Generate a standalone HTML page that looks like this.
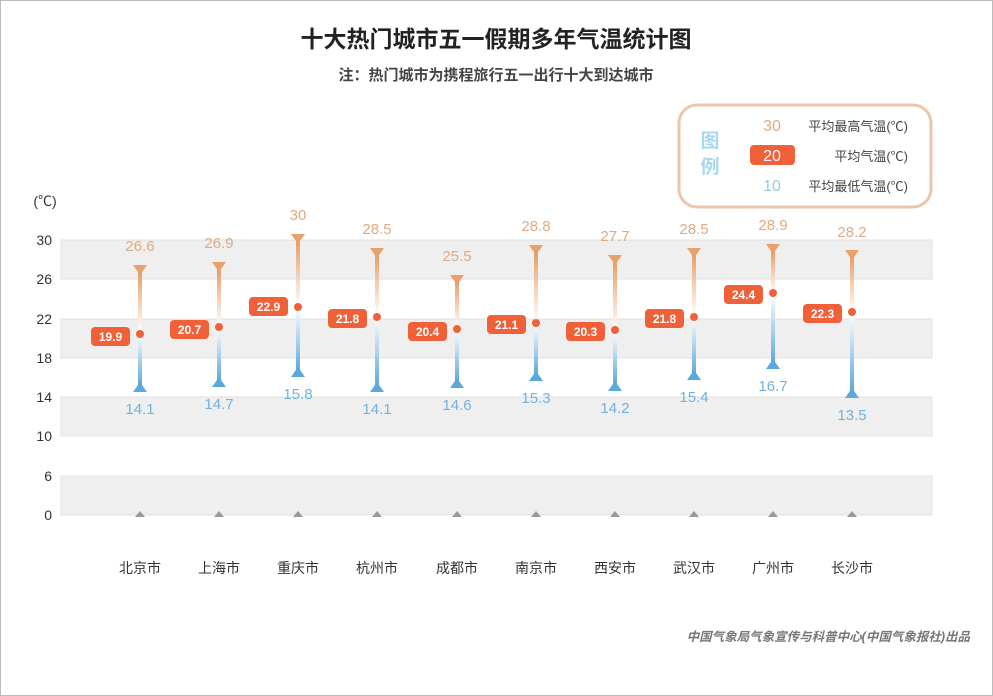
<!DOCTYPE html>
<html><head><meta charset="utf-8"><style>
html,body{margin:0;padding:0;background:#fff}
svg{display:block;font-family:"Liberation Sans","Noto Sans CJK SC",sans-serif}
</style></head><body>
<svg width="993" height="696" viewBox="0 0 993 696" xmlns="http://www.w3.org/2000/svg">
<defs>
<linearGradient id="gB" gradientUnits="userSpaceOnUse" x1="0" y1="273" x2="0" y2="386"><stop offset="0" stop-color="#e9a06a"/><stop offset="0.53" stop-color="#fff"/><stop offset="1" stop-color="#5aa8dc"/></linearGradient>
<linearGradient id="gS" gradientUnits="userSpaceOnUse" x1="0" y1="271" x2="0" y2="381"><stop offset="0" stop-color="#e9a06a"/><stop offset="0.5" stop-color="#fff"/><stop offset="1" stop-color="#5aa8dc"/></linearGradient>
<linearGradient id="gC" gradientUnits="userSpaceOnUse" x1="0" y1="243" x2="0" y2="371"><stop offset="0" stop-color="#e9a06a"/><stop offset="0.5" stop-color="#fff"/><stop offset="1" stop-color="#5aa8dc"/></linearGradient>
<linearGradient id="gH" gradientUnits="userSpaceOnUse" x1="0" y1="256" x2="0" y2="386"><stop offset="0" stop-color="#e9a06a"/><stop offset="0.46" stop-color="#fff"/><stop offset="1" stop-color="#5aa8dc"/></linearGradient>
<linearGradient id="gD" gradientUnits="userSpaceOnUse" x1="0" y1="283" x2="0" y2="382"><stop offset="0" stop-color="#e9a06a"/><stop offset="0.46" stop-color="#fff"/><stop offset="1" stop-color="#5aa8dc"/></linearGradient>
<linearGradient id="gN" gradientUnits="userSpaceOnUse" x1="0" y1="254" x2="0" y2="375"><stop offset="0" stop-color="#e9a06a"/><stop offset="0.57" stop-color="#fff"/><stop offset="1" stop-color="#5aa8dc"/></linearGradient>
<linearGradient id="gX" gradientUnits="userSpaceOnUse" x1="0" y1="264" x2="0" y2="385"><stop offset="0" stop-color="#e9a06a"/><stop offset="0.55" stop-color="#fff"/><stop offset="1" stop-color="#5aa8dc"/></linearGradient>
<linearGradient id="gW" gradientUnits="userSpaceOnUse" x1="0" y1="256" x2="0" y2="374"><stop offset="0" stop-color="#e9a06a"/><stop offset="0.51" stop-color="#fff"/><stop offset="1" stop-color="#5aa8dc"/></linearGradient>
<linearGradient id="gG" gradientUnits="userSpaceOnUse" x1="0" y1="253" x2="0" y2="363"><stop offset="0" stop-color="#e9a06a"/><stop offset="0.37" stop-color="#fff"/><stop offset="1" stop-color="#5aa8dc"/></linearGradient>
<linearGradient id="gZ" gradientUnits="userSpaceOnUse" x1="0" y1="259" x2="0" y2="392"><stop offset="0" stop-color="#e9a06a"/><stop offset="0.4" stop-color="#fff"/><stop offset="1" stop-color="#5aa8dc"/></linearGradient>
</defs>
<rect x="0.5" y="0.5" width="992" height="695" fill="#fff" stroke="#bbb"/>
<text x="496" y="47" text-anchor="middle" font-size="23" font-weight="bold" fill="#222">十大热门城市五一假期多年气温统计图</text>
<text x="496" y="80" text-anchor="middle" font-size="15" font-weight="bold" fill="#444">注：热门城市为携程旅行五一出行十大到达城市</text>
<rect x="679" y="105" width="252" height="102" rx="18" fill="#fff" stroke="#ecc6a8" stroke-width="3"/>
<text x="710" y="147" text-anchor="middle" font-size="19" font-weight="bold" fill="#a8d8ee">图</text>
<text x="710" y="173" text-anchor="middle" font-size="19" font-weight="bold" fill="#a8d8ee">例</text>
<text x="772" y="131" text-anchor="middle" font-size="16" fill="#e0aa84">30</text>
<rect x="750" y="145" width="45" height="20" rx="4" fill="#f0613a"/>
<text x="772" y="161" text-anchor="middle" font-size="16" fill="#fff">20</text>
<text x="772" y="191" text-anchor="middle" font-size="16" fill="#9ac8e4">10</text>
<text x="908" y="131" text-anchor="end" font-size="13" fill="#444">平均最高气温(℃)</text>
<text x="908" y="161" text-anchor="end" font-size="13" fill="#444">平均气温(℃)</text>
<text x="908" y="191" text-anchor="end" font-size="13" fill="#444">平均最低气温(℃)</text>
<g fill="#efefef" stroke="#e0e0e0">
<rect x="61" y="240" width="871" height="39"/>
<rect x="61" y="319" width="871" height="39"/>
<rect x="61" y="397" width="871" height="39"/>
<rect x="61" y="476" width="871" height="39"/>
</g>
<text x="45" y="206" text-anchor="middle" font-size="14" fill="#333">(℃)</text>
<g font-size="14" fill="#333" text-anchor="end">
<text x="52" y="245">30</text><text x="52" y="284">26</text><text x="52" y="324">22</text><text x="52" y="363">18</text>
<text x="52" y="402">14</text><text x="52" y="441">10</text><text x="52" y="481">6</text><text x="52" y="520">0</text>
</g>
<g fill="#999">
<path d="M135 517 L140 511 L145 517Z"/><path d="M214 517 L219 511 L224 517Z"/><path d="M293 517 L298 511 L303 517Z"/><path d="M372 517 L377 511 L382 517Z"/><path d="M452 517 L457 511 L462 517Z"/><path d="M531 517 L536 511 L541 517Z"/><path d="M610 517 L615 511 L620 517Z"/><path d="M689 517 L694 511 L699 517Z"/><path d="M768 517 L773 511 L778 517Z"/><path d="M847 517 L852 511 L857 517Z"/>
</g>
<g font-size="14" fill="#333" text-anchor="middle">
<text x="140" y="573">北京市</text><text x="219" y="573">上海市</text><text x="298" y="573">重庆市</text><text x="377" y="573">杭州市</text><text x="457" y="573">成都市</text><text x="536" y="573">南京市</text><text x="615" y="573">西安市</text><text x="694" y="573">武汉市</text><text x="773" y="573">广州市</text><text x="852" y="573">长沙市</text>
</g>
<g stroke-width="4">
<line x1="140" y1="270" x2="140" y2="386" stroke="url(#gB)"/>
<line x1="219" y1="268" x2="219" y2="381" stroke="url(#gS)"/>
<line x1="298" y1="240" x2="298" y2="371" stroke="url(#gC)"/>
<line x1="377" y1="253" x2="377" y2="386" stroke="url(#gH)"/>
<line x1="457" y1="280" x2="457" y2="382" stroke="url(#gD)"/>
<line x1="536" y1="250" x2="536" y2="375" stroke="url(#gN)"/>
<line x1="615" y1="260" x2="615" y2="385" stroke="url(#gX)"/>
<line x1="694" y1="253" x2="694" y2="374" stroke="url(#gW)"/>
<line x1="773" y1="250" x2="773" y2="363" stroke="url(#gG)"/>
<line x1="852" y1="256" x2="852" y2="392" stroke="url(#gZ)"/>
</g>
<g fill="#e9a06a">
<path d="M133 265 L147 265 L140 275Z"/><path d="M212 262 L226 262 L219 272Z"/><path d="M291 234 L305 234 L298 244Z"/><path d="M370 248 L384 248 L377 258Z"/><path d="M450 275 L464 275 L457 285Z"/><path d="M529 245 L543 245 L536 255Z"/><path d="M608 255 L622 255 L615 265Z"/><path d="M687 248 L701 248 L694 258Z"/><path d="M766 244 L780 244 L773 254Z"/><path d="M845 250 L859 250 L852 260Z"/>
</g>
<g fill="#5aa8dc">
<path d="M133 392 L147 392 L140 382Z"/><path d="M212 387 L226 387 L219 377Z"/><path d="M291 377 L305 377 L298 367Z"/><path d="M370 392 L384 392 L377 382Z"/><path d="M450 388 L464 388 L457 378Z"/><path d="M529 381 L543 381 L536 371Z"/><path d="M608 391 L622 391 L615 381Z"/><path d="M687 380 L701 380 L694 370Z"/><path d="M766 369 L780 369 L773 359Z"/><path d="M845 398 L859 398 L852 388Z"/>
</g>
<g font-size="15" fill="#e0aa84" text-anchor="middle">
<text x="140" y="251">26.6</text><text x="219" y="248">26.9</text><text x="298" y="220">30</text><text x="377" y="234">28.5</text><text x="457" y="261">25.5</text><text x="536" y="231">28.8</text><text x="615" y="241">27.7</text><text x="694" y="234">28.5</text><text x="773" y="230">28.9</text><text x="852" y="237">28.2</text>
</g>
<g font-size="15" fill="#72b2dc" text-anchor="middle">
<text x="140" y="414">14.1</text><text x="219" y="409">14.7</text><text x="298" y="399">15.8</text><text x="377" y="414">14.1</text><text x="457" y="410">14.6</text><text x="536" y="403">15.3</text><text x="615" y="413">14.2</text><text x="694" y="402">15.4</text><text x="773" y="391">16.7</text><text x="852" y="420">13.5</text>
</g>
<g fill="#f0613a">
<circle cx="140" cy="334" r="4"/><circle cx="219" cy="327" r="4"/><circle cx="298" cy="307" r="4"/><circle cx="377" cy="317" r="4"/><circle cx="457" cy="329" r="4"/><circle cx="536" cy="323" r="4"/><circle cx="615" cy="330" r="4"/><circle cx="694" cy="317" r="4"/><circle cx="773" cy="293" r="4"/><circle cx="852" cy="312" r="4"/>
<rect x="91" y="327" width="39" height="19" rx="4"/><rect x="170" y="320" width="39" height="19" rx="4"/><rect x="249" y="297" width="39" height="19" rx="4"/><rect x="328" y="309" width="39" height="19" rx="4"/><rect x="408" y="322" width="39" height="19" rx="4"/><rect x="487" y="315" width="39" height="19" rx="4"/><rect x="566" y="322" width="39" height="19" rx="4"/><rect x="645" y="309" width="39" height="19" rx="4"/><rect x="724" y="285" width="39" height="19" rx="4"/><rect x="803" y="304" width="39" height="19" rx="4"/>
</g>
<g font-size="12" font-weight="bold" fill="#fff" text-anchor="middle">
<text x="110.5" y="341">19.9</text><text x="189.5" y="334">20.7</text><text x="268.5" y="311">22.9</text><text x="347.5" y="323">21.8</text><text x="427.5" y="336">20.4</text><text x="506.5" y="329">21.1</text><text x="585.5" y="336">20.3</text><text x="664.5" y="323">21.8</text><text x="743.5" y="299">24.4</text><text x="822.5" y="318">22.3</text>
</g>
<text x="970" y="641" text-anchor="end" font-size="12.5" font-weight="bold" font-style="italic" fill="#777">中国气象局气象宣传与科普中心(中国气象报社)出品</text>
</svg>
</body></html>
